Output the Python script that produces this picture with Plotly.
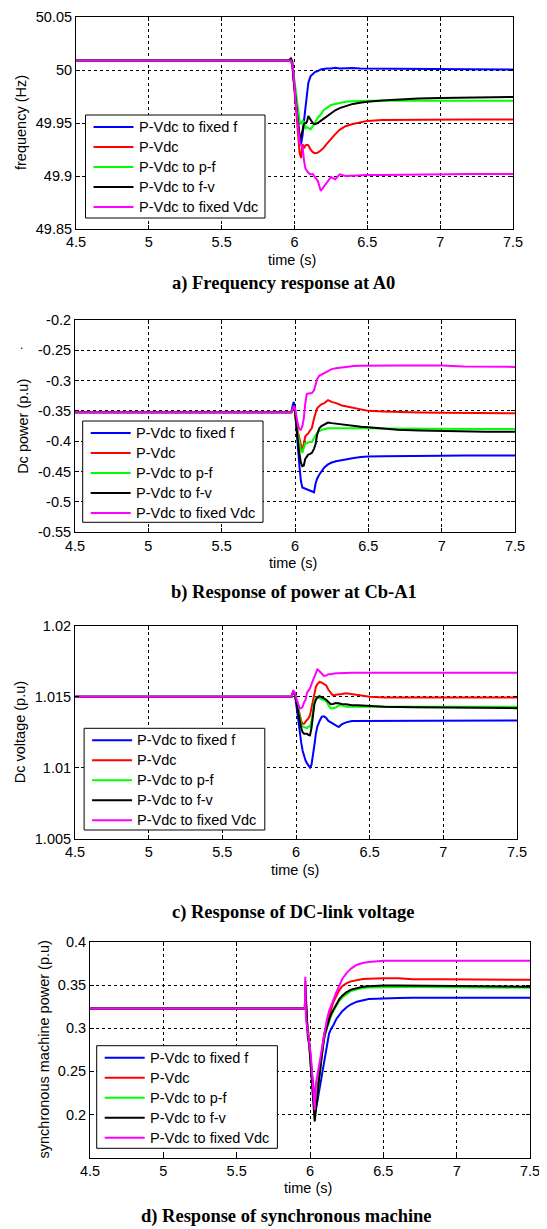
import plotly.graph_objects as go

W, H = 547, 1229
PAGE_OFFSET = 8          # the browser page adds an 8 px margin round the figure
FW, FH = W - PAGE_OFFSET, H - PAGE_OFFSET

# ---------------- data ----------------
series_names = ["P-Vdc to fixed f", "P-Vdc", "P-Vdc to p-f", "P-Vdc to f-v", "P-Vdc to fixed Vdc"]
series_colors = ["#0000ff", "#ff0000", "#00ff00", "#000000", "#ff00ff"]

x_tick_vals = [4.5, 5, 5.5, 6, 6.5, 7, 7.5]
x_tick_text = ["4.5", "5", "5.5", "6", "6.5", "7", "7.5"]

# a) frequency at A0 (Hz)
t_a = [4.5, 5.96, 5.975, 5.985, 5.995, 6.005, 6.015, 6.025, 6.035, 6.045, 6.055, 6.065, 6.075, 6.085,
       6.095, 6.11, 6.125, 6.14, 6.16, 6.18, 6.2, 6.22, 6.25, 6.28, 6.31, 6.35, 6.4, 6.45, 6.5, 6.6,
       6.7, 6.85, 7.0, 7.2, 7.5]
freq_fixed_f = [50.009, 50.009, 50.009, 50.004, 49.990, 49.975, 49.962, 49.948, 49.937, 49.930, 49.938,
                49.952, 49.966, 49.978, 49.988, 49.994, 49.996, 49.998, 49.999, 50.0005, 50.001, 50.0015,
                50.0015, 50.002, 50.0015, 50.002, 50.002, 50.0015, 50.0015, 50.0015, 50.0012, 50.001,
                50.001, 50.0008, 50.0005]
freq_pvdc = [50.009, 50.009, 50.009, 50.006, 49.990, 49.975, 49.960, 49.940, 49.922, 49.917, 49.930,
             49.926, 49.929, 49.9295, 49.929, 49.925, 49.9225, 49.9215, 49.922, 49.924, 49.9265, 49.930,
             49.935, 49.9395, 49.9435, 49.947, 49.949, 49.9505, 49.952, 49.9528, 49.953, 49.9532,
             49.9533, 49.9533, 49.9534]
freq_pf = [50.009, 50.009, 50.009, 50.006, 49.995, 49.982, 49.970, 49.960, 49.952, 49.949, 49.952,
           49.951, 49.945, 49.946, 49.945, 49.944, 49.947, 49.951, 49.955, 49.958, 49.962, 49.964,
           49.967, 49.968, 49.969, 49.970, 49.9705, 49.971, 49.971, 49.971, 49.971, 49.971, 49.971,
           49.971, 49.971]
freq_fv = [50.009, 50.009, 50.011, 50.008, 49.990, 49.975, 49.960, 49.945, 49.936, 49.937, 49.942,
           49.949, 49.950, 49.951, 49.9565, 49.953, 49.950, 49.9488, 49.950, 49.952, 49.954, 49.956,
           49.959, 49.962, 49.964, 49.966, 49.968, 49.969, 49.970, 49.9712, 49.972, 49.973, 49.9735,
           49.974, 49.9745]
freq_fixed_vdc = [50.009, 50.009, 50.009, 50.006, 49.995, 49.975, 49.958, 49.943, 49.931, 49.929,
                  49.928, 49.915, 49.907, 49.905, 49.903, 49.9015, 49.902, 49.899, 49.8955, 49.886,
                  49.890, 49.893, 49.899, 49.897, 49.9015, 49.900, 49.9005, 49.9008, 49.901, 49.901,
                  49.9012, 49.902, 49.902, 49.902, 49.902]
y_ticks_a = [49.85, 49.9, 49.95, 50, 50.05]
y_text_a = ["49.85", "49.9", "49.95", "50", "50.05"]

# b) DC power at Cb-A1 (p.u)
t_b = [4.5, 5.975, 5.985, 5.992, 6.0, 6.01, 6.02, 6.03, 6.04, 6.05, 6.06, 6.07, 6.08, 6.09, 6.1, 6.115,
       6.13, 6.14, 6.15, 6.165, 6.18, 6.2, 6.225, 6.25, 6.28, 6.32, 6.36, 6.4, 6.45, 6.5, 6.6, 6.7,
       6.85, 7.0, 7.15, 7.3, 7.5]
pdc_fixed_f = [-0.352, -0.352, -0.340, -0.335, -0.345, -0.385, -0.410, -0.440, -0.465, -0.476, -0.477,
               -0.478, -0.4795, -0.481, -0.482, -0.483, -0.484, -0.470, -0.462, -0.455, -0.449, -0.443,
               -0.438, -0.435, -0.433, -0.431, -0.429, -0.4275, -0.426, -0.425, -0.4245, -0.424,
               -0.4238, -0.4236, -0.4235, -0.4234, -0.4232]
pdc_pvdc = [-0.352, -0.352, -0.345, -0.341, -0.350, -0.374, -0.385, -0.395, -0.410, -0.415, -0.405,
            -0.392, -0.389, -0.387, -0.383, -0.378, -0.362, -0.352, -0.346, -0.342, -0.339, -0.337,
            -0.332, -0.335, -0.337, -0.341, -0.343, -0.3456, -0.348, -0.3498, -0.351, -0.352, -0.3527,
            -0.353, -0.3533, -0.3536, -0.3538]
pdc_pf = [-0.352, -0.352, -0.345, -0.341, -0.352, -0.376, -0.390, -0.401, -0.415, -0.419, -0.410,
          -0.403, -0.403, -0.402, -0.401, -0.401, -0.395, -0.389, -0.386, -0.383, -0.3815, -0.380,
          -0.3785, -0.379, -0.3785, -0.3786, -0.3784, -0.3784, -0.3785, -0.3786, -0.379, -0.3792,
          -0.3793, -0.3794, -0.3795, -0.3795, -0.3795]
pdc_fv = [-0.352, -0.352, -0.345, -0.341, -0.352, -0.380, -0.400, -0.420, -0.435, -0.441, -0.440,
          -0.429, -0.425, -0.422, -0.421, -0.419, -0.412, -0.405, -0.390, -0.379, -0.375, -0.372,
          -0.369, -0.370, -0.371, -0.372, -0.374, -0.3752, -0.376, -0.377, -0.3793, -0.3808, -0.382,
          -0.383, -0.3838, -0.3842, -0.3844]
pdc_fixed_vdc = [-0.352, -0.352, -0.346, -0.342, -0.346, -0.361, -0.372, -0.380, -0.381, -0.375,
                 -0.362, -0.338, -0.322, -0.321, -0.321, -0.3205, -0.316, -0.307, -0.298, -0.292,
                 -0.290, -0.2865, -0.284, -0.281, -0.2795, -0.278, -0.2765, -0.276, -0.2753, -0.275,
                 -0.275, -0.275, -0.275, -0.275, -0.2765, -0.277, -0.2773]
y_ticks_b = [-0.55, -0.5, -0.45, -0.4, -0.35, -0.3, -0.25, -0.2]
y_text_b = ["-0.55", "-0.5", "-0.45", "-0.4", "-0.35", "-0.3", "-0.25", "-0.2"]

# c) DC-link voltage (p.u)
t_c = [4.5, 5.97, 5.982, 5.992, 6.005, 6.015, 6.025, 6.035, 6.045, 6.055, 6.065, 6.075, 6.085, 6.095,
       6.105, 6.115, 6.125, 6.135, 6.145, 6.16, 6.175, 6.19, 6.205, 6.22, 6.235, 6.25, 6.27, 6.29,
       6.31, 6.34, 6.38, 6.42, 6.5, 6.6, 6.8, 7.0, 7.25, 7.5]
vdc_fixed_f = [1.015, 1.015, 1.0154, 1.0152, 1.0142, 1.0133, 1.0125, 1.0118, 1.0112, 1.0108, 1.0105,
               1.0103, 1.0101, 1.0100, 1.0102, 1.0108, 1.0116, 1.0124, 1.0129, 1.0133, 1.0136,
               1.01362, 1.0135, 1.0133, 1.0132, 1.0131, 1.0130, 1.01287, 1.01305, 1.0132, 1.0133,
               1.0133, 1.01334, 1.01334, 1.01334, 1.01333, 1.01333, 1.01333]
vdc_pvdc = [1.015, 1.015, 1.0154, 1.0152, 1.0147, 1.0142, 1.0138, 1.0133, 1.0131, 1.0131, 1.01325,
            1.01335, 1.0135, 1.0137, 1.0142, 1.0148, 1.0153, 1.0157, 1.0159, 1.01605, 1.016, 1.0159,
            1.0158, 1.0155, 1.0153, 1.0151, 1.01515, 1.0152, 1.0152, 1.01525, 1.0152, 1.0151, 1.015,
            1.01495, 1.01495, 1.01495, 1.01495, 1.01495]
vdc_pf = [1.015, 1.015, 1.0154, 1.0152, 1.0146, 1.014, 1.0136, 1.0131, 1.0129, 1.01285, 1.01283,
          1.0128, 1.0129, 1.0129, 1.0133, 1.0141, 1.0147, 1.0149, 1.015, 1.0149, 1.01485, 1.0148,
          1.0147, 1.0144, 1.0142, 1.0142, 1.01425, 1.0144, 1.0144, 1.0143, 1.0143, 1.0143, 1.0143,
          1.0143, 1.0143, 1.0143, 1.0143, 1.0143]
vdc_fv = [1.015, 1.015, 1.0154, 1.0152, 1.0145, 1.0139, 1.0134, 1.0128, 1.0125, 1.0124, 1.0124,
          1.0124, 1.0123, 1.01228, 1.0128, 1.0137, 1.0145, 1.0148, 1.01495, 1.01505, 1.015, 1.0149,
          1.0148, 1.0146, 1.01448, 1.0145, 1.01457, 1.01455, 1.0145, 1.01448, 1.0144, 1.0144,
          1.01435, 1.0143, 1.01426, 1.01424, 1.01422, 1.0142]
vdc_fixed_vdc = [1.015, 1.015, 1.0154, 1.0153, 1.0148, 1.0144, 1.01418, 1.0142, 1.0143, 1.0146,
                 1.0148, 1.0153, 1.01548, 1.0156, 1.0159, 1.01615, 1.0164, 1.0167, 1.01694, 1.0168,
                 1.0166, 1.01648, 1.0165, 1.0166, 1.0166, 1.01664, 1.01666, 1.01666, 1.01668, 1.0167,
                 1.0167, 1.0167, 1.0167, 1.0167, 1.0167, 1.0167, 1.0167, 1.0167]
y_ticks_c = [1.005, 1.01, 1.015, 1.02]
y_text_c = ["1.005", "1.01", "1.015", "1.02"]

# d) synchronous machine power (p.u)
t_d = [4.5, 5.965, 5.968, 5.972, 5.978, 5.985, 5.995, 6.005, 6.015, 6.025, 6.032, 6.04, 6.05, 6.06,
       6.07, 6.08, 6.09, 6.1, 6.115, 6.13, 6.145, 6.16, 6.18, 6.2, 6.22, 6.25, 6.28, 6.32, 6.36, 6.4,
       6.45, 6.5, 6.6, 6.7, 6.9, 7.1, 7.3, 7.5]
psm_fixed_f = [0.323, 0.323, 0.335, 0.330, 0.310, 0.300, 0.285, 0.265, 0.245, 0.228, 0.215, 0.208,
               0.215, 0.225, 0.234, 0.247, 0.258, 0.268, 0.282, 0.294, 0.300, 0.304, 0.311, 0.316,
               0.320, 0.3245, 0.328, 0.331, 0.3328, 0.334, 0.3345, 0.335, 0.3353, 0.3355, 0.3356,
               0.3357, 0.3357, 0.3357]
psm_pvdc = [0.323, 0.323, 0.355, 0.330, 0.310, 0.300, 0.285, 0.262, 0.238, 0.218, 0.205, 0.212, 0.228,
            0.245, 0.262, 0.276, 0.287, 0.296, 0.306, 0.314, 0.323, 0.331, 0.338, 0.3445, 0.349,
            0.3525, 0.3546, 0.3563, 0.3573, 0.3578, 0.3581, 0.3581, 0.3581, 0.357, 0.357, 0.357,
            0.3567, 0.3565]
psm_pf = [0.323, 0.323, 0.350, 0.330, 0.305, 0.295, 0.283, 0.258, 0.236, 0.216, 0.200, 0.205, 0.222,
          0.240, 0.256, 0.268, 0.280, 0.291, 0.300, 0.308, 0.315, 0.3205, 0.327, 0.332, 0.336, 0.340,
          0.3435, 0.3455, 0.347, 0.3475, 0.3478, 0.348, 0.348, 0.348, 0.3478, 0.3476, 0.3474, 0.3472]
psm_fv = [0.323, 0.323, 0.350, 0.330, 0.300, 0.290, 0.280, 0.255, 0.232, 0.210, 0.192, 0.205, 0.218,
          0.238, 0.255, 0.267, 0.281, 0.292, 0.302, 0.310, 0.317, 0.322, 0.329, 0.334, 0.3378, 0.3422,
          0.345, 0.347, 0.3483, 0.349, 0.3496, 0.3497, 0.3497, 0.3496, 0.3493, 0.349, 0.3487, 0.3484]
psm_fixed_vdc = [0.323, 0.323, 0.360, 0.312, 0.305, 0.295, 0.283, 0.270, 0.245, 0.220, 0.205, 0.235,
                 0.245, 0.258, 0.268, 0.279, 0.290, 0.300, 0.310, 0.320, 0.328, 0.3335, 0.342, 0.350,
                 0.3575, 0.3645, 0.3695, 0.374, 0.376, 0.377, 0.3778, 0.3785, 0.3787, 0.3787, 0.3787,
                 0.3787, 0.3787, 0.3787]
y_ticks_d = [0.2, 0.25, 0.3, 0.35, 0.4]
y_text_d = ["0.2", "0.25", "0.3", "0.35", "0.4"]

y_titles = ["frequency (Hz)", "Dc power (p.u)", "Dc voltage (p.u)", "synchronous machine power (p.u)"]
x_title = "time (s)"
captions = ["a) Frequency response at A0", "b) Response of power at Cb-A1",
            "c) Response of DC-link voltage", "d) Response of synchronous machine"]

# ---------------- layout geometry (screen pixels) ----------------
panels = [
    dict(t=t_a, ys=[freq_fixed_f, freq_pvdc, freq_pf, freq_fv, freq_fixed_vdc],
         yr=[49.85, 50.05], yt=y_ticks_a, ytt=y_text_a,
         box=(76, 17, 513, 229), leg=(85.5, 115, 265, 218), ytx=21, xtt=(292, 260), cap=(283.5, 283)),
    dict(t=t_b, ys=[pdc_fixed_f, pdc_pvdc, pdc_pf, pdc_fv, pdc_fixed_vdc],
         yr=[-0.55, -0.2], yt=y_ticks_b, ytt=y_text_b,
         box=(75, 320, 515, 532.3), leg=(82.7, 421, 263, 522.3), ytx=22.7, xtt=(293, 562.7), cap=(294, 592)),
    dict(t=t_c, ys=[vdc_fixed_f, vdc_pvdc, vdc_pf, vdc_fv, vdc_fixed_vdc],
         yr=[1.005, 1.02], yt=y_ticks_c, ytt=y_text_c,
         box=(75, 626, 517, 838.5), leg=(84.1, 728.3, 264.8, 830), ytx=20, xtt=(294.7, 870), cap=(293, 912)),
    dict(t=t_d, ys=[psm_fixed_f, psm_pvdc, psm_pf, psm_fv, psm_fixed_vdc],
         yr=[0.15, 0.4], yt=y_ticks_d, ytt=y_text_d,
         box=(90, 942.3, 530, 1157.5), leg=(96.7, 1045.7, 277.4, 1148.3), ytx=43.6, xtt=(308, 1188.3), cap=(286, 1216)),
]

SANS = "Liberation Sans, Arial, Helvetica, sans-serif"
SERIF = "Liberation Serif, Times New Roman, serif"
TICK_FONT = dict(family=SANS, size=14.5, color="black")


def px(x):
    return (x - PAGE_OFFSET) / FW


def py(y):
    return 1 - (y - PAGE_OFFSET) / FH


fig = go.Figure()
layout = dict(width=FW, height=FH, margin=dict(l=0, r=0, t=0, b=0), showlegend=False,
              paper_bgcolor="white", plot_bgcolor="white")
shapes = []
annotations = []

for i, p in enumerate(panels):
    k = "" if i == 0 else str(i + 1)
    L, T, R, B = p["box"]
    for name, color, yv in zip(series_names, series_colors, p["ys"]):
        fig.add_trace(go.Scatter(x=p["t"], y=yv, mode="lines", name=name,
                                 line=dict(color=color, width=2), xaxis="x" + k, yaxis="y" + k,
                                 showlegend=False, hoverinfo="skip"))
    common = dict(showgrid=True, gridcolor="black", gridwidth=1, griddash="3px,3px",
                  showline=True, linecolor="black", linewidth=1, mirror="ticks",
                  ticks="inside", ticklen=4, tickcolor="black", tickfont=TICK_FONT,
                  zeroline=False, automargin=False, ticklabeloverflow="allow")
    layout["xaxis" + k] = dict(domain=[px(L), px(R)], anchor="y" + k, range=[4.5, 7.5],
                               tickmode="array", tickvals=x_tick_vals, ticktext=x_tick_text, **common)
    layout["yaxis" + k] = dict(domain=[py(B), py(T)], anchor="x" + k, range=p["yr"],
                               tickmode="array", tickvals=p["yt"], ticktext=p["ytt"], **common)

    # axis titles and caption
    annotations.append(dict(text=y_titles[i], x=px(p["ytx"]), y=py((T + B) / 2), xref="paper", yref="paper",
                            textangle=-90, showarrow=False, xanchor="center", yanchor="middle",
                            font=dict(family=SANS, size=14.5, color="black")))
    annotations.append(dict(text=x_title, x=px(p["xtt"][0]), y=py(p["xtt"][1]), xref="paper", yref="paper",
                            showarrow=False, xanchor="center", yanchor="middle",
                            font=dict(family=SANS, size=14.5, color="black")))
    annotations.append(dict(text="<b>" + captions[i] + "</b>", x=px(p["cap"][0]), y=py(p["cap"][1]),
                            xref="paper", yref="paper", showarrow=False, xanchor="center", yanchor="middle",
                            font=dict(family=SERIF, size=18.5, color="black")))

    # legend box
    lL, lT, lR, lB = p["leg"]
    shapes.append(dict(type="rect", xref="paper", yref="paper", x0=px(lL), x1=px(lR), y0=py(lB), y1=py(lT),
                       line=dict(color="black", width=1), fillcolor="white", layer="above"))
    for j, (name, color) in enumerate(zip(series_names, series_colors)):
        yc = lT + 12 + 20 * j
        shapes.append(dict(type="line", xref="paper", yref="paper", x0=px(lL + 8), x1=px(lL + 48),
                           y0=py(yc), y1=py(yc), line=dict(color=color, width=2), layer="above"))
        annotations.append(dict(text=name, x=px(lL + 51), y=py(yc), xref="paper", yref="paper",
                                showarrow=False, xanchor="left", yanchor="middle",
                                font=dict(family=SANS, size=14.5, color="black")))

# small stray mark beside the power-axis title
annotations.append(dict(text=".", x=px(21), y=py(345), xref="paper", yref="paper", showarrow=False,
                        xanchor="center", yanchor="middle", font=dict(family=SANS, size=12, color="black")))

layout["shapes"] = shapes
layout["annotations"] = annotations
fig.update_layout(**layout)
fig.write_html("out.html")
